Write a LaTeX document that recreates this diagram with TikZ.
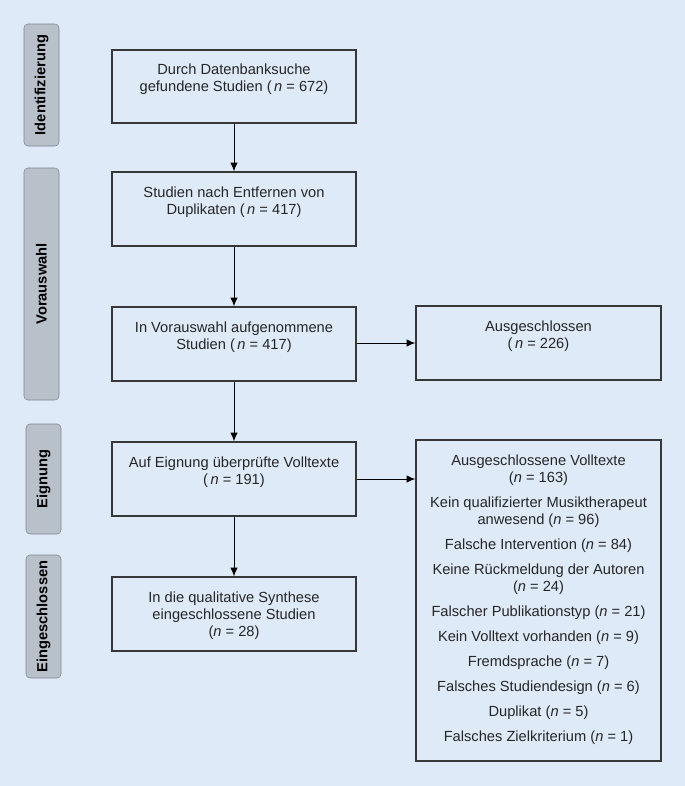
\documentclass[tikz,border=0pt]{standalone}
\usepackage{fontspec}
\setmainfont{Liberation Sans}
\usetikzlibrary{arrows.meta}

\definecolor{bgblue}{RGB}{222,234,247}
\definecolor{tabgray}{RGB}{184,192,202}
\definecolor{tabline}{RGB}{128,134,142}
\definecolor{boxline}{RGB}{55,55,55}

\newcommand{\nn}{\textit{n}}

\begin{document}
\begin{tikzpicture}[x=0.75pt,y=-0.75pt,
  font=\fontsize{11}{12.75}\selectfont, text=black!85,
  stepbox/.style={draw=boxline, line width=1pt, inner sep=0pt},
  tab/.style={draw=tabline, fill=tabgray, rounded corners=3pt, rotate=90,
    font=\fontsize{11}{13}\selectfont\bfseries, text=black, inner sep=0pt,
    minimum height=26.25pt},
  arr/.style={-{Latex[length=6.5pt,width=5.5pt]}, line width=0.75pt}]
\fill[bgblue] (0,0) rectangle (685,786);
\useasboundingbox (0,0) rectangle (685,786);

% phase labels
\node[tab, minimum width=91.5pt] (tid) at (41.5,85) {Identifizierung};
\node[tab, minimum width=174pt] (tvor) at (41.5,284) {Vorauswahl};
\node[tab, minimum width=82.5pt] (teig) at (43.5,479) {Eignung};
\node[tab, minimum width=92.25pt] (tein) at (43.5,616.5) {Eingeschlossen};

% main column
\node[stepbox] (found) at (234,86.5) {\parbox[c][54.75pt][t]{183pt}{\centering
  \rule{0pt}{18pt}Durch Datenbanksuche\\gefundene Studien (\,\nn{} = 672)}};
\node[stepbox] (dupl) at (234,209) {\parbox[c][55.5pt][t]{183pt}{\centering
  \rule{0pt}{18.75pt}Studien nach Entfernen von\\Duplikaten (\,\nn{} = 417)}};
\node[stepbox] (screen) at (234,344) {\parbox[c][55.5pt][t]{183pt}{\centering
  \rule{0pt}{18.75pt}In Vorauswahl aufgenommene\\Studien (\,\nn{} = 417)}};
\node[stepbox] (full) at (234,479) {\parbox[c][55.5pt][t]{183pt}{\centering
  \rule{0pt}{18.75pt}Auf Eignung überprüfte Volltexte\\(\,\nn{} = 191)}};
\node[stepbox] (incl) at (234,614) {\parbox[c][55.5pt][t]{183pt}{\centering
  \rule{0pt}{18.75pt}In die qualitative Synthese\\eingeschlossene Studien\\(\nn{} = 28)}};

% excluded
\node[stepbox] (excl) at (538.5,343) {\parbox[c][55.5pt][t]{183.75pt}{\centering
  \rule{0pt}{18.75pt}Ausgeschlossen\\(\,\nn{} = 226)}};
\node[stepbox] (exfull) at (538.5,600.5) {\parbox[c][240.75pt][t]{183.75pt}{\centering
  \rule{0pt}{18.75pt}Ausgeschlossene Volltexte\\(\nn{} = 163)\\[6pt]
  Kein qualifizierter Musiktherapeut\\anwesend (\nn{} = 96)\\[6pt]
  Falsche Intervention (\nn{} = 84)\\[6pt]
  Keine Rückmeldung der Autoren\\(\nn{} = 24)\\[6pt]
  Falscher Publikationstyp (\nn{} = 21)\\[6pt]
  Kein Volltext vorhanden (\nn{} = 9)\\[6pt]
  Fremdsprache (\nn{} = 7)\\[6pt]
  Falsches Studiendesign (\nn{} = 6)\\[6pt]
  Duplikat (\nn{} = 5)\\[6pt]
  Falsches Zielkriterium (\nn{} = 1)}};

\draw[arr] (found)--(dupl);
\draw[arr] (dupl)--(screen);
\draw[arr] (screen)--(full);
\draw[arr] (full)--(incl);
\draw[arr] (screen.east |- excl.west)--(excl.west);
\draw[arr] (full.east)--(full.east -| exfull.west);
\end{tikzpicture}
\end{document}
